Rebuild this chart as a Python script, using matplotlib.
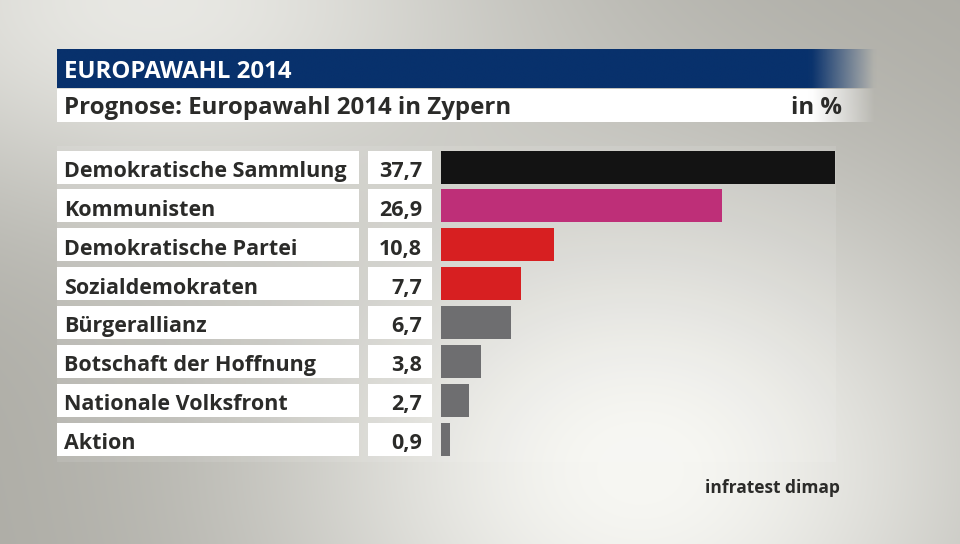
import numpy as np
import matplotlib.pyplot as plt
from matplotlib import transforms

# DATEN
parteien = ['Demokratische Sammlung', 'Kommunisten', 'Demokratische Partei',
            'Sozialdemokraten', 'Bürgerallianz', 'Botschaft der Hoffnung',
            'Nationale Volksfront', 'Aktion']
werte = [37.7, 26.9, 10.8, 7.7, 6.7, 3.8, 2.7, 0.9]
farben = ['#131313', '#be2f78', '#d71f21', '#d71f21', '#6e6e70', '#6e6e70',
          '#6e6e70', '#6e6e70']
kopf = 'EUROPAWAHL 2014'
titel = 'Prognose: Europawahl 2014 in Zypern'
einheit = 'in %'
quelle = 'infratest dimap'

plt.rcParams['font.family'] = ['Open Sans', 'DejaVu Sans']
textfarbe = '#2b2b29'
blau = np.array([8, 49, 108]) / 255

W, H = 960, 544
fig = plt.figure(figsize=(W / 100, H / 100), dpi=100)

# HINTERGRUND (pixel-koordinaten)
bg = fig.add_axes([0, 0, 1, 1])
bg.set_xlim(0, W)
bg.set_ylim(H, 0)
bg.axis('off')

yy, xx = np.mgrid[0:H, 0:W].astype(float)
b1 = np.exp(-((xx - 640) ** 2 / 380 ** 2 + (yy - 470) ** 2 / 300 ** 2))
b2 = 0.8 * np.exp(-((xx - 150) ** 2 / 380 ** 2 + (yy - 0) ** 2 / 220 ** 2))
t = 1 - (1 - b1) * (1 - b2)
dunkel = np.array([171, 170, 163]) / 255
hell = np.array([247, 247, 243]) / 255
img = dunkel + t[..., None] * (hell - dunkel)
bg.imshow(img, extent=(0, W, H, 0), aspect='auto', zorder=0)

# heller streifen hinter den zeilen
bg.add_patch(plt.Rectangle((57, 146), 779, 316, color='white', alpha=0.1,
                           lw=0, zorder=1))

# KOPFZEILE mit ausblenden nach rechts
def band(y0, y1, farbe):
    n = 200
    x = np.linspace(57, 880, n)
    a = np.clip((877 - x) / (877 - 813), 0, 1)
    rgba = np.zeros((1, n, 4))
    rgba[..., :3] = farbe
    rgba[..., 3] = a
    bg.imshow(rgba, extent=(57, 880, y1, y0), aspect='auto', zorder=2,
              interpolation='bilinear')

band(49, 88, blau)
band(89, 122, np.array([1.0, 1.0, 1.0]))
bg.text(64, 77.5, kopf, color='white', fontsize=17.3, fontweight='bold',
        va='baseline', ha='left', zorder=3)
bg.text(64, 114, titel, color=textfarbe, fontsize=17.3, fontweight='bold',
        va='baseline', ha='left', zorder=3)
bg.text(842, 114, einheit, color=textfarbe, fontsize=17.3, fontweight='bold',
        va='baseline', ha='right', zorder=3)
bg.text(840, 493, quelle, color=textfarbe, fontsize=12.5, fontweight='bold',
        va='baseline', ha='right', zorder=3)

# BALKEN
px_pro_einheit = 10.45
x0, x1 = 441, 900
teilung = 38.86
oben = 167 - teilung / 2
unten = oben + teilung * len(werte)
ax = fig.add_axes([x0 / W, 1 - unten / H, (x1 - x0) / W, (unten - oben) / H])
ax.set_xlim(0, (x1 - x0) / px_pro_einheit)
ax.set_ylim(len(werte) - 0.5, -0.5)
ax.axis('off')
ax.patch.set_alpha(0)

pos = np.arange(len(werte))
hoehe = 33 / teilung
ax.barh(pos, werte, height=hoehe, color=farben, lw=0)

# boxen und texte: x in pixeln, y in zeilen
trans = transforms.blended_transform_factory(bg.transData, ax.transData)
base = transforms.offset_copy(trans, fig=fig, x=0, y=-10, units='dots')
for i, (name, w) in enumerate(zip(parteien, werte)):
    ax.add_patch(plt.Rectangle((57, i - hoehe / 2), 302, hoehe, color='white',
                               lw=0, transform=trans, clip_on=False))
    ax.add_patch(plt.Rectangle((368, i - hoehe / 2), 64, hoehe, color='white',
                               lw=0, transform=trans, clip_on=False))
    ax.text(64, i, name, transform=base, color=textfarbe, fontsize=15.5,
            fontweight='bold', va='baseline', ha='left')
    ax.text(422, i, f'{w:.1f}'.replace('.', ','), transform=base,
            color=textfarbe, fontsize=15.5, fontweight='bold', va='baseline',
            ha='right')

fig.savefig('out.png', dpi=100)
